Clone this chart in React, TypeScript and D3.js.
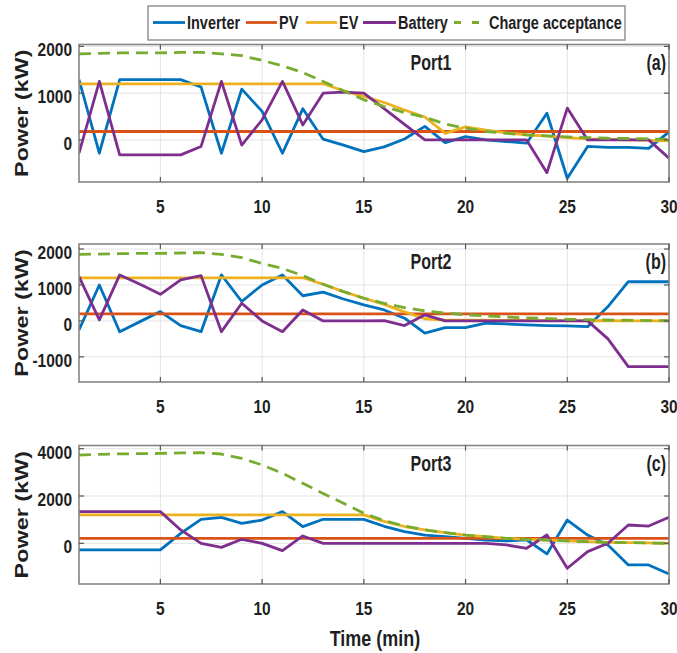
import React from 'react';
import * as d3 from 'd3';

// time axis (min)
const time = [1, 2, 3, 4, 5, 6, 7, 8, 9, 10, 11, 12, 13, 14, 15, 16, 17, 18, 19, 20, 21, 22, 23, 24, 25, 26, 27, 28, 29, 30];
const xTicks = [5, 10, 15, 20, 25, 30];

const seriesNames = ['Inverter', 'PV', 'EV', 'Battery', 'Charge acceptance'];
const seriesColors = ['#0072BD', '#D95319', '#EDB120', '#7E2F8E', '#77AC30'];

// Port1
const inv1 = [1290, -285, 1290, 1290, 1290, 1290, 1130, -285, 1085, 610, -285, 665, 15, -110, -250, -150, 20, 290, -57, 70, 0, -35, -70, 570, -820, -140, -160, -160, -180, 170];
const pv1 = [180, 180, 180, 180, 180, 180, 180, 180, 180, 180, 180, 180, 180, 180, 180, 180, 180, 180, 180, 180, 180, 180, 180, 180, 180, 180, 180, 180, 180, 180];
const ev1 = [1200, 1200, 1200, 1200, 1200, 1200, 1200, 1200, 1200, 1200, 1200, 1200, 1200, 1050, 930, 800, 640, 490, 140, 280, 210, 150, 110, 80, 50, 20, 10, 0, -10, -20];
const bat1 = [-285, 1250, -320, -320, -320, -320, -140, 1250, -110, 430, 1250, 320, 1000, 1020, 1000, 670, 330, 0, 0, 0, 0, 0, 0, -700, 680, 0, 0, 0, 0, -390];
const ca1 = [1840, 1850, 1860, 1860, 1860, 1870, 1870, 1840, 1800, 1700, 1585, 1440, 1250, 1050, 857, 715, 585, 485, 340, 250, 180, 140, 107, 85, 65, 50, 35, 30, 20, 15];

// Port2
const inv2 = [-250, 1000, -300, -20, 260, -130, -300, 1280, 540, 1000, 1280, 700, 800, 610, 445, 305, 75, -340, -185, -185, -65, -85, -110, -130, -140, -160, 400, 1090, 1090, 1090];
const pv2 = [195, 195, 195, 195, 195, 195, 195, 195, 195, 195, 195, 195, 195, 195, 195, 195, 195, 195, 195, 195, 195, 195, 195, 195, 195, 195, 195, 195, 195, 195];
const ev2 = [1200, 1200, 1200, 1200, 1200, 1200, 1200, 1200, 1200, 1200, 1200, 1200, 1020, 815, 630, 460, 250, 60, 20, 20, 20, 15, 15, 10, 10, 5, 5, 0, 0, 0];
const bat2 = [1230, 30, 1280, 1020, 740, 1140, 1260, -300, 490, 0, -300, 305, 0, 0, 0, 10, -130, 170, 0, 0, 0, 0, 0, 0, 0, 0, -500, -1270, -1270, -1270];
const ca2 = [1850, 1860, 1870, 1880, 1880, 1890, 1900, 1850, 1760, 1600, 1460, 1260, 1020, 815, 630, 490, 370, 280, 220, 170, 140, 110, 85, 65, 45, 35, 25, 20, 10, 5];

// Port3
const inv3 = [-280, -280, -280, -280, -280, 420, 1015, 1100, 845, 985, 1340, 705, 1015, 1015, 1015, 720, 490, 350, 280, 210, 140, 100, 150, -450, 985, 350, -70, -915, -915, -1300];
const pv3 = [210, 210, 210, 210, 210, 210, 210, 210, 210, 210, 210, 210, 210, 210, 210, 210, 210, 210, 210, 210, 210, 210, 210, 210, 210, 210, 210, 210, 210, 210];
const ev3 = [1200, 1200, 1200, 1200, 1200, 1200, 1200, 1200, 1200, 1200, 1200, 1200, 1200, 1200, 1200, 930, 710, 565, 450, 350, 280, 210, 170, 140, 100, 70, 40, 30, 15, 0];
const bat3 = [1340, 1340, 1340, 1340, 1340, 565, 0, -170, 170, 0, -310, 310, 0, 0, 0, 0, 0, 0, 0, 0, 0, -70, -210, 350, -1055, -350, 0, 775, 730, 1100];
const ca3 = [3730, 3760, 3780, 3790, 3800, 3820, 3830, 3775, 3590, 3310, 2960, 2535, 2110, 1690, 1270, 960, 730, 565, 450, 350, 280, 210, 170, 140, 100, 70, 40, 30, 15, 0];

const panels = [
    { id: 'p1', title: 'Port1', tag: '(a)', top: 44.5, bottom: 182, yDomain: [-900, 2040], yTicks: [0, 1000, 2000], series: [inv1, pv1, ev1, bat1, ca1] },
    { id: 'p2', title: 'Port2', tag: '(b)', top: 244, bottom: 382, yDomain: [-1700, 2140], yTicks: [-1000, 0, 1000, 2000], series: [inv2, pv2, ev2, bat2, ca2] },
    { id: 'p3', title: 'Port3', tag: '(c)', top: 445.5, bottom: 584, yDomain: [-1720, 4135], yTicks: [0, 2000, 4000], series: [inv3, pv3, ev3, bat3, ca3] },
];

const LEFT = 79;
const RIGHT = 669;
const FONT = '"Liberation Sans", Arial, sans-serif';
const INK = '#1f1f1f';

// text squeezed to look like the vertically stretched original
function Txt({ x, y, size, sy = 1.2, anchor = 'start', children }) {
    return (
        <text
            transform={`translate(${x},${y}) scale(1,${sy})`}
            fontFamily={FONT}
            fontWeight="bold"
            fontSize={size}
            fill={INK}
            textAnchor={anchor}
        >
            {children}
        </text>
    );
}

function Panel({ p }) {
    const x = d3.scaleLinear().domain([1, 30]).range([LEFT, RIGHT]);
    const y = d3.scaleLinear().domain(p.yDomain).range([p.bottom, p.top]);
    const line = d3.line<number>()
        .x((d, i) => x(time[i]))
        .y(d => y(d));

    return (
        <g>
            <defs>
                <clipPath id={`clip-${p.id}`}>
                    <rect x={LEFT} y={p.top} width={RIGHT - LEFT} height={p.bottom - p.top} />
                </clipPath>
            </defs>
            <rect x={LEFT} y={p.top} width={RIGHT - LEFT} height={p.bottom - p.top} fill="#fff" />
            {/* grid */}
            {xTicks.map(t => (
                <line key={`gx${t}`} x1={x(t)} x2={x(t)} y1={p.top} y2={p.bottom} stroke="#e3e3e3" strokeWidth={1} />
            ))}
            {p.yTicks.map(t => (
                <line key={`gy${t}`} x1={LEFT} x2={RIGHT} y1={y(t)} y2={y(t)} stroke="#e3e3e3" strokeWidth={1} />
            ))}
            {/* series */}
            <g clipPath={`url(#clip-${p.id})`}>
                {p.series.map((s, i) => (
                    <path
                        key={i}
                        d={line(s)}
                        fill="none"
                        stroke={seriesColors[i]}
                        strokeWidth={2.8}
                        strokeDasharray={i === 4 ? '12 7' : undefined}
                        strokeLinejoin="round"
                    />
                ))}
            </g>
            {/* box + ticks */}
            <rect x={LEFT} y={p.top} width={RIGHT - LEFT} height={p.bottom - p.top} fill="none" stroke="#858585" strokeWidth={1.6} />
            {xTicks.map(t => (
                <g key={`tx${t}`}>
                    <line x1={x(t)} x2={x(t)} y1={p.bottom} y2={p.bottom - 5} stroke="#555" strokeWidth={1.2} />
                    <line x1={x(t)} x2={x(t)} y1={p.top} y2={p.top + 5} stroke="#555" strokeWidth={1.2} />
                    <Txt x={x(t)} y={p.bottom + 31} size={15.5} sy={1.22} anchor="middle">{t}</Txt>
                </g>
            ))}
            {p.yTicks.map(t => (
                <g key={`ty${t}`}>
                    <line x1={LEFT} x2={LEFT + 5} y1={y(t)} y2={y(t)} stroke="#555" strokeWidth={1.2} />
                    <line x1={RIGHT} x2={RIGHT - 5} y1={y(t)} y2={y(t)} stroke="#555" strokeWidth={1.2} />
                    <Txt x={LEFT - 7} y={y(t) + 10} size={15.5} sy={1.2} anchor="end">{t}</Txt>
                </g>
            ))}
            <Txt x={431} y={p.top + 25} size={16} sy={1.38} anchor="middle">{p.title}</Txt>
            <Txt x={666} y={p.top + 25} size={16} sy={1.38} anchor="end">{p.tag}</Txt>
            <text
                transform={`translate(28,${(p.top + p.bottom) / 2}) rotate(-90) scale(1.3,1)`}
                fontFamily={FONT}
                fontWeight="bold"
                fontSize={18}
                fill={INK}
                textAnchor="middle"
            >
                Power (kW)
            </text>
        </g>
    );
}

const legendLines = [[153, 185], [246, 277], [306, 337], [363, 396], [454, 480]];
const legendText = [187, 279, 339, 398, 489];

function Legend() {
    const cy = 22.5;
    return (
        <g>
            <rect x={148} y={6} width={477} height={34} fill="#fff" stroke="#8a8a8a" strokeWidth={1.4} />
            {seriesNames.map((n, i) => (
                <g key={n}>
                    <line
                        x1={legendLines[i][0]}
                        x2={legendLines[i][1]}
                        y1={cy}
                        y2={cy}
                        stroke={seriesColors[i]}
                        strokeWidth={2.8}
                        strokeDasharray={i === 4 ? '7 11' : undefined}
                    />
                    <Txt x={legendText[i]} y={cy + 6.8} size={14.5} sy={1.3}>{n}</Txt>
                </g>
            ))}
        </g>
    );
}

export default function App() {
    return (
        <svg
            width={677}
            height={653}
            style={{ position: 'absolute', left: 0, top: 0, background: '#fff' }}
        >
            {panels.map(p => <Panel key={p.id} p={p} />)}
            <Legend />
            <Txt x={375} y={646} size={18} sy={1.22} anchor="middle">Time (min)</Txt>
        </svg>
    );
}
